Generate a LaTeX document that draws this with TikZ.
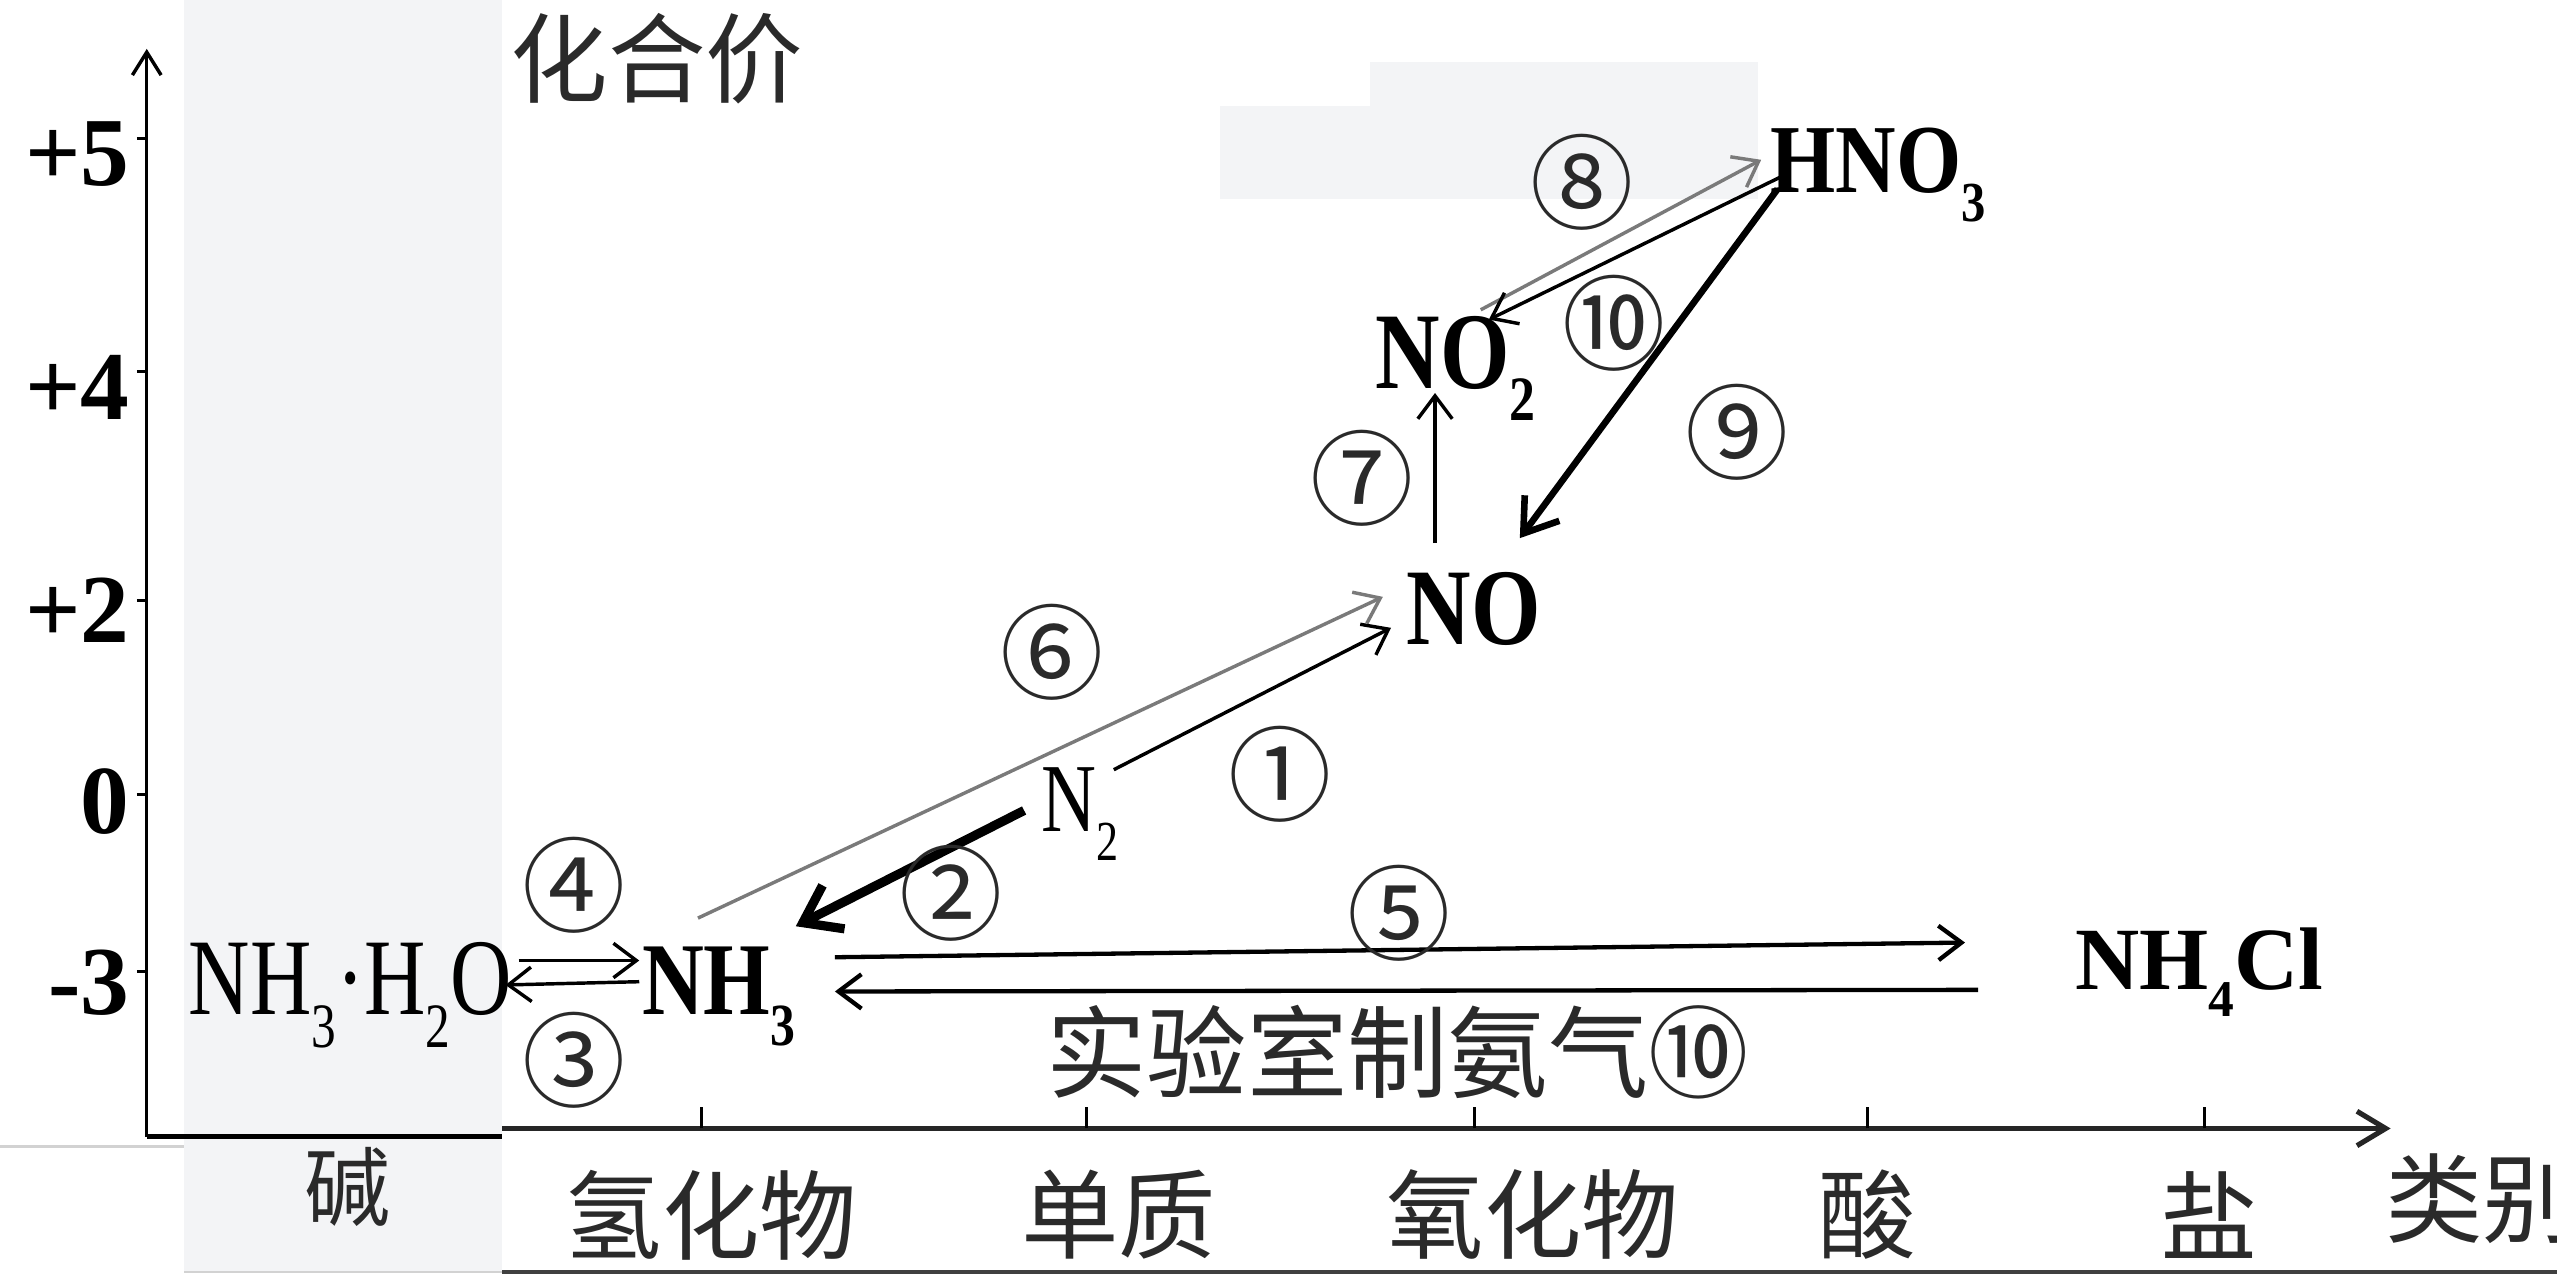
\documentclass[tikz,border=0pt]{standalone}
\usepackage{graphicx}
\usepackage{fontspec}
\setmainfont{Liberation Serif}
\newfontfamily\cjk{Noto Sans CJK SC}
\usetikzlibrary{arrows.meta,calc}
\definecolor{band}{HTML}{F3F4F6}
\definecolor{arrgray}{HTML}{7A7A7A}
\definecolor{txtgray}{HTML}{2A2A2A}
\newcommand{\chemsub}[1]{\raisebox{-0.3em}{\scalebox{0.58}{#1}}}
\begin{document}
\begin{tikzpicture}[x=0.01cm,y=-0.01cm,
  formula/.style={inner sep=0pt, anchor=base west},
  cn/.style={inner sep=0pt, font=\cjk\fontsize{15}{15}\selectfont, text=txtgray},
  stepnum/.style={inner sep=0pt, font=\cjk\fontsize{18}{18}\selectfont, text=txtgray},
  zh/.style={inner sep=0pt, font=\cjk\fontsize{17}{17}\selectfont, text=txtgray},
  ylab/.style={inner sep=0pt, anchor=base east, font=\bfseries\fontsize{17}{17}\selectfont},
  thinarrow/.style={line width=0.6pt, -{Straight Barb[length=4pt,width=6pt]}},
  grayarrow/.style={thinarrow, draw=arrgray},
  thickarrow/.style={line width=1.6pt, -{Straight Barb[length=6pt,width=8.5pt]}},
  midarrow/.style={line width=1.15pt, -{Straight Barb[length=5.5pt,width=7.5pt]}},
]
\useasboundingbox (0,0) rectangle (1568,785);
% background shading
\fill[band] (113,0) rectangle (308,780);
\fill[band] (748,65) rectangle (1078,122);
\fill[band] (840,38) rectangle (1078,65);
\draw[gray!35, line width=0.5pt] (0,703) -- (113,703);
\draw[gray!35, line width=0.5pt] (113,780) -- (308,780);
\draw[black!75, line width=0.7pt] (308,780) -- (1568,780);

% axes
\draw[line width=0.6pt, -{Straight Barb[length=4pt,width=5pt]}] (90,697) -- (90,30);
\foreach \yy in {85,228,368,487,596} \draw[line width=0.5pt] (84,\yy) -- (90,\yy);
\draw[line width=0.9pt] (90,697) -- (308,697);
\draw[line width=0.9pt, black!85, -{Straight Barb[length=5pt,width=6pt]}] (308,692) -- (1466,692);
\foreach \xx in {430,666,904,1145,1352} \draw[line width=0.5pt] (\xx,692) -- (\xx,679);

\node[ylab] (y5) at (80,114) {+5};
\node[ylab] (y4) at (80,257) {+4};
\node[ylab] (y2) at (80,394) {+2};
\node[ylab] (y0) at (80,511) {0};
\node[ylab] (ym3) at (80,622) {-3};
\node[zh] (valence) at (403,36) {化合价};

\node[cn] (base) at (213,728) {碱};
\node[zh] (hydride) at (436,745) {氢化物};
\node[zh] (element) at (686,745) {单质};
\node[zh] (oxide) at (940,745) {氧化物};
\node[zh] (acid) at (1145,745) {酸};
\node[zh] (salt) at (1355,745) {盐};
\node[zh, anchor=west] (category) at (1462,735) {类别};

% compounds
\node[formula, font=\bfseries\fontsize{17}{17}\selectfont] (HNO3) at (1085,118) {\scalebox{0.86}[1]{HNO\chemsub{3}}};
\node[formula, font=\bfseries\fontsize{19}{19}\selectfont] (NO2) at (843,238) {\scalebox{0.82}[1]{NO\chemsub{2}}};
\node[formula, font=\bfseries\fontsize{19}{19}\selectfont] (NO) at (862,395) {\scalebox{0.82}[1]{NO}};
\node[formula, font=\fontsize{17}{17}\selectfont] (N2) at (638,510) {\scalebox{0.78}[1]{N\chemsub{2}}};
\node[formula, font=\bfseries\fontsize{18}{18}\selectfont] (NH3) at (393,622) {\scalebox{0.83}[1]{NH\chemsub{3}}};
\node[formula, font=\fontsize{19}{19}\selectfont] (NH3H2O) at (115,622) {\scalebox{0.78}[1]{NH\chemsub{3}·H\chemsub{2}O}};
\node[formula, font=\bfseries\fontsize{15.5}{15.5}\selectfont] (NH4Cl) at (1272,607) {NH\chemsub{4}Cl};

% connectors
\draw[grayarrow] ($(NO2.base west)+(65,-48)$) -- ($(HNO3.base west)+(-5,-20)$);
\draw[thinarrow] ($(HNO3.base west)+(8,-10)$) -- ($(NO2.base west)+(70,-42)$);
\draw[midarrow] ($(HNO3.base west)+(5,-2)$) -- ($(NO.base west)+(70,-65)$);
\draw[thinarrow] ($(NO.base west)+(18,-62)$) -- ($(NO2.base west)+(37,3)$);
\draw[grayarrow] ($(NH3.base west)+(35,-59)$) -- ($(NO.base west)+(-14,-29)$);
\draw[thinarrow] ($(N2.base west)+(45,-38)$) -- ($(NO.base west)+(-9,-10)$);
\draw[thickarrow] ($(N2.base west)+(-10,-13)$) -- ($(NH3.base west)+(95,-54)$);
\draw[thinarrow] ($(NH3H2O.base west)+(203,-33)$) -- ($(NH3.base west)+(-1,-33)$);
\draw[thinarrow] ($(NH3.base west)+(-1,-20)$) -- ($(NH3H2O.base west)+(195,-18)$);
\draw[thinarrow, line width=0.75pt] ($(NH3.base west)+(119,-35)$) -- ($(NH4Cl.base west)+(-67,-29)$);
\draw[thinarrow, line width=0.75pt] ($(NH4Cl.base west)+(-59,0)$) -- ($(NH3.base west)+(119,-14)$);

% step labels
\node[stepnum] (l8) at (970,112) {⑧};
\node[stepnum] (l10a) at (990,198) {⑩};
\node[stepnum] (l9) at (1065,265) {⑨};
\node[stepnum] (l7) at (835,293) {⑦};
\node[stepnum] (l6) at (645,400) {⑥};
\node[stepnum] (l1) at (785,475) {①};
\node[stepnum] (l2) at (583,548) {②};
\node[stepnum] (l4) at (352,543) {④};
\node[stepnum] (l3) at (352,650) {③};
\node[stepnum] (l5) at (858,560) {⑤};
\node[zh, font=\cjk\fontsize{17.5}{17.5}\selectfont] (lab) at (857,645) {实验室制氨气⑩};
\end{tikzpicture}
\end{document}
